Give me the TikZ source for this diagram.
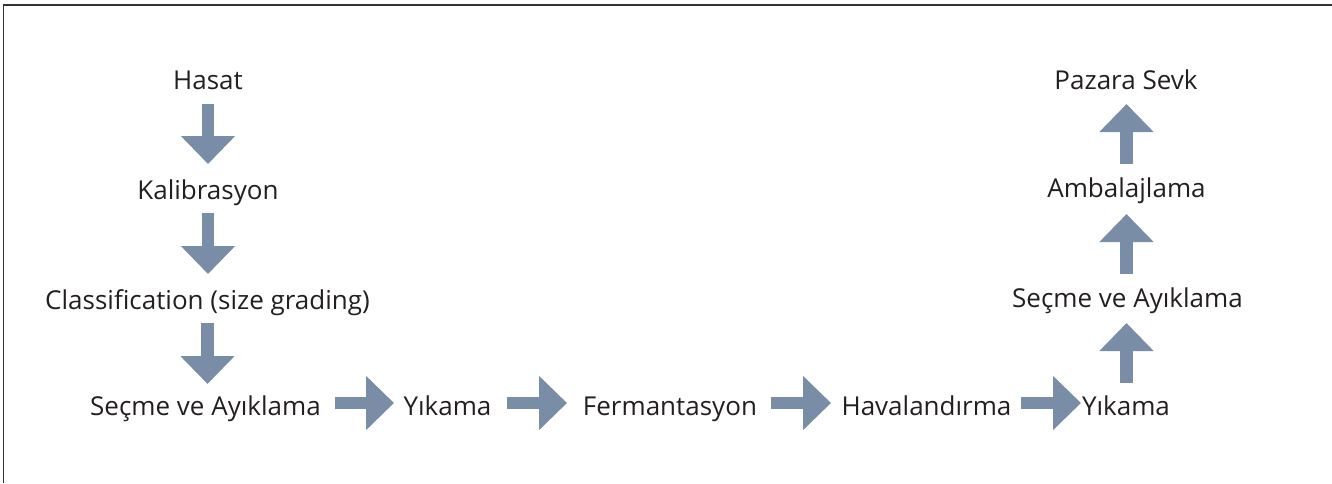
\documentclass[tikz,border=0pt]{standalone}
\usepackage{fontspec}
\setmainfont{Open Sans}
\usetikzlibrary{arrows.meta}
\definecolor{arr}{RGB}{122,141,166}
\definecolor{txt}{RGB}{35,31,32}
\begin{document}
\begin{tikzpicture}[x=1pt,y=-1pt,
  lbl/.style={anchor=base,inner sep=0pt,text=txt,font=\fontsize{26}{30}\selectfont},
  blk/.style={draw=arr,line width=12.6pt,-{Triangle[width=52.6pt,length=28pt]},color=arr}]
\useasboundingbox (0,0) rectangle (1332,483);
\draw[line width=1.4pt,color=black!80] (3.5,483) -- (3.5,5) -- (1332,5);
% labels
\node[lbl] (hasat) at (208,89) {Hasat};
\node[lbl] (kal) at (208,199) {Kalibrasyon};
\node[lbl] (cls) at (207.5,309) {Classification (size grading)};
\node[lbl] (sec1) at (205.5,415) {Seçme ve Ayıklama};
\node[lbl] (yik1) at (447.5,415) {Yıkama};
\node[lbl] (fer) at (670,415) {Fermantasyon};
\node[lbl] (hav) at (926.5,415) {Havalandırma};
\node[lbl] (yik2) at (1126,415) {Yıkama};
\node[lbl] (sec2) at (1127.5,307) {Seçme ve Ayıklama};
\node[lbl] (amb) at (1126.5,197) {Ambalajlama};
\node[lbl] (paz) at (1126,89) {Pazara Sevk};
% arrow end points
\coordinate (d1s) at (208,104); \coordinate (d1e) at (208,164);
\coordinate (d2s) at (208,213); \coordinate (d2e) at (208,274);
\coordinate (d3s) at (207.5,323); \coordinate (d3e) at (207.5,384);
\coordinate (h1s) at (335,403); \coordinate (h1e) at (394,403);
\coordinate (h2s) at (507,403); \coordinate (h2e) at (567,403);
\coordinate (h3s) at (771,403); \coordinate (h3e) at (831,403);
\coordinate (h4s) at (1021,403); \coordinate (h4e) at (1081,403);
\coordinate (u1s) at (1126.5,383); \coordinate (u1e) at (1126.5,323);
\coordinate (u2s) at (1126.5,274); \coordinate (u2e) at (1126.5,214);
\coordinate (u3s) at (1126.5,164); \coordinate (u3e) at (1126.5,104);
\foreach \a in {d1,d2,d3,h1,h2,h3,h4,u1,u2,u3}
  \draw[blk] (\a s) -- (\a e);
\end{tikzpicture}
\end{document}
